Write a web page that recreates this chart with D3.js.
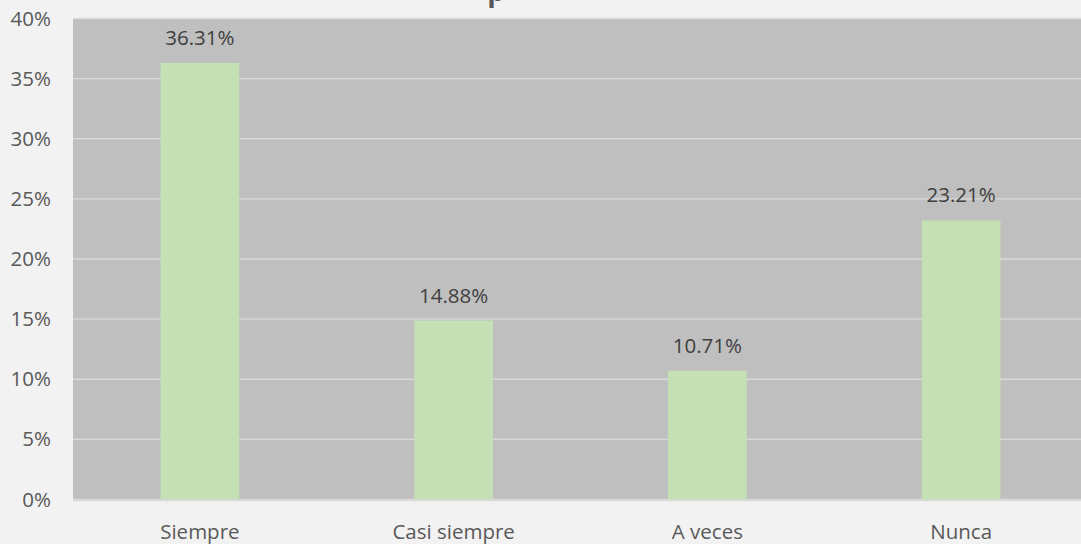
<!DOCTYPE html>
<html lang="es">
<head>
  <meta charset="UTF-8">
  <title>Bar chart</title>
  <script src="https://d3js.org/d3.v7.min.js"></script>
  <style>
    html, body { margin: 0; padding: 0; background: #f2f2f2; overflow: hidden; }
    text { font-family: "Open Sans", sans-serif; }
  </style>
</head>
<body>
  <div id="chart"></div>
  <script>
    // data
    const categories = ["Siempre", "Casi siempre", "A veces", "Nunca"];
    const values = [36.31, 14.88, 10.71, 23.21];
    const yTicks = [0, 5, 10, 15, 20, 25, 30, 35, 40];

    const width = 1081, height = 544;
    const margin = { top: 18.5, right: -7, bottom: 44.5, left: 73 };
    const font = "'Open Sans', sans-serif";
    const fs = 20.5;

    const svg = d3.select("#chart").append("svg")
      .attr("width", width)
      .attr("height", height);

    svg.append("rect")
      .attr("width", width).attr("height", height)
      .attr("fill", "#f2f2f2");

    const x = d3.scaleBand()
      .domain(categories)
      .range([margin.left, width - margin.right])
      .paddingInner(0.69)
      .paddingOuter(0.345);

    const y = d3.scaleLinear()
      .domain([0, 40])
      .range([height - margin.bottom, margin.top]);

    // title, mostly cut off at the top
    svg.append("text")
      .attr("x", 496).attr("y", 1)
      .attr("text-anchor", "middle")
      .attr("font-size", 28).attr("font-weight", "bold")
      .attr("fill", "#595959")
      .text("p");

    // plot area
    svg.append("rect")
      .attr("x", margin.left).attr("y", y(40))
      .attr("width", width - margin.left)
      .attr("height", y(0) - y(40))
      .attr("fill", "#bfbfbf");

    // gridlines
    svg.append("g")
      .selectAll("line")
      .data(yTicks)
      .join("line")
      .attr("x1", margin.left).attr("x2", width)
      .attr("y1", d => y(d)).attr("y2", d => y(d))
      .attr("stroke", "#d9d9d9").attr("stroke-width", 1.3);

    // y axis labels
    const yAxis = d3.axisLeft(y).tickValues(yTicks).tickFormat(d => d + "%").tickSize(0).tickPadding(22);
    const gy = svg.append("g").attr("transform", `translate(${margin.left},0)`).call(yAxis);
    gy.select(".domain").remove();
    gy.selectAll("text").attr("font-size", fs).attr("fill", "#595959")
      .attr("font-family", font);

    // bars
    svg.append("g")
      .selectAll("rect")
      .data(values)
      .join("rect")
      .attr("x", (d, i) => x(categories[i]))
      .attr("y", d => y(d))
      .attr("width", x.bandwidth())
      .attr("height", d => y(0) - y(d))
      .attr("fill", "#c5e0b4");

    // data labels
    svg.append("g")
      .selectAll("text")
      .data(values)
      .join("text")
      .attr("x", (d, i) => x(categories[i]) + x.bandwidth() / 2)
      .attr("y", d => y(d) - 18)
      .attr("text-anchor", "middle")
      .attr("font-size", fs)
      .attr("fill", "#404040")
      .text(d => d.toFixed(2) + "%");

    // x axis
    const xAxis = d3.axisBottom(x).tickSize(0).tickPadding(25);
    const gx = svg.append("g").attr("transform", `translate(0,${y(0)})`).call(xAxis);
    gx.select(".domain").remove();
    gx.selectAll("text").attr("font-size", fs).attr("fill", "#595959")
      .attr("font-family", font);
    svg.append("line")
      .attr("x1", margin.left).attr("x2", width)
      .attr("y1", y(0) + 1).attr("y2", y(0) + 1)
      .attr("stroke", "#d9d9d9").attr("stroke-width", 1.3);
  </script>
</body>
</html>
